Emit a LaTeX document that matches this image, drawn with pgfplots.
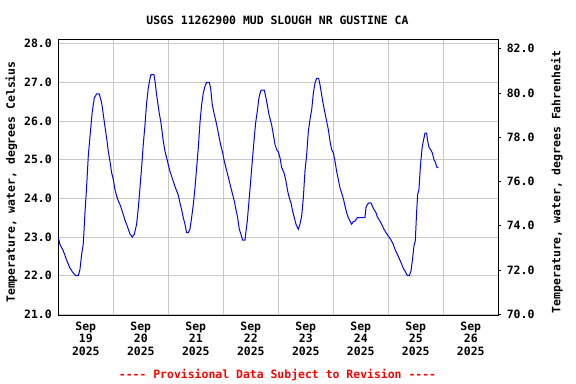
\documentclass[border=0pt]{standalone}
\usepackage{pgfplots}
\pgfplotsset{compat=1.18}
\usepackage{fontspec}
\setmainfont{DejaVu Sans Mono}
\setmonofont{DejaVu Sans Mono}
\definecolor{gridgray}{RGB}{200,200,200}
\newcommand{\ff}{\ttfamily\bfseries\fontsize{11.5}{13}\selectfont}
\begin{document}
\begin{tikzpicture}
\path[use as bounding box] (0,0) rectangle (576bp,384bp);
\begin{axis}[
  scale only axis, width=440bp, height=276.7bp,
  at={(58.3bp,68bp)}, anchor=south west,
  xmin=0, xmax=8, ymin=20.956, ymax=28.114,
  axis line style={line width=1bp, black},
  xtick={0.5,1.5,2.5,3.5,4.5,5.5,6.5,7.5},
  xticklabels={{Sep\\19\\2025},{Sep\\20\\2025},{Sep\\21\\2025},{Sep\\22\\2025},{Sep\\23\\2025},{Sep\\24\\2025},{Sep\\25\\2025},{Sep\\26\\2025}},
  xticklabel style={align=center, font=\ff, yshift=-2bp},
  minor xtick={1,2,3,4,5,6,7},
  xminorgrids=true, xmajorgrids=false,
  ytick={21,22,23,24,25,26,27,28},
  ymajorgrids=true,
  grid style={gridgray, line width=0.9bp},
  minor grid style={gridgray, line width=0.9bp},
  major tick length=0pt, minor tick length=0pt,
  yticklabel style={font=\ff, xshift=-3bp},
  /pgf/number format/.cd, fixed, fixed zerofill, precision=1, assume math mode=true,
]
\addplot[blue, line width=1bp] coordinates {
(0.000,22.98)(0.030,22.81)(0.091,22.64)(0.152,22.40)(0.212,22.20)(0.255,22.10)(0.315,22.00)(0.364,22.00)(0.394,22.16)(0.424,22.55)(0.455,22.83)(0.485,23.63)(0.515,24.30)(0.545,25.09)(0.576,25.60)(0.618,26.25)(0.655,26.60)(0.697,26.70)(0.745,26.70)(0.788,26.47)(0.818,26.17)(0.848,25.86)(0.879,25.56)(0.909,25.22)(0.939,24.96)(0.970,24.66)(1.000,24.49)(1.030,24.23)(1.061,24.06)(1.091,23.93)(1.121,23.84)(1.152,23.71)(1.182,23.58)(1.212,23.43)(1.242,23.33)(1.273,23.20)(1.303,23.08)(1.345,23.00)(1.382,23.07)(1.424,23.33)(1.455,23.76)(1.485,24.27)(1.515,24.80)(1.545,25.39)(1.576,25.90)(1.606,26.47)(1.636,26.85)(1.667,27.10)(1.685,27.20)(1.739,27.20)(1.758,27.03)(1.788,26.68)(1.830,26.25)(1.867,25.95)(1.909,25.48)(1.939,25.22)(1.970,25.05)(2.000,24.87)(2.030,24.70)(2.061,24.57)(2.091,24.44)(2.121,24.31)(2.152,24.19)(2.182,24.08)(2.212,23.88)(2.242,23.71)(2.273,23.50)(2.303,23.33)(2.333,23.11)(2.364,23.11)(2.394,23.20)(2.424,23.50)(2.455,23.84)(2.485,24.27)(2.515,24.79)(2.545,25.30)(2.576,25.95)(2.606,26.42)(2.636,26.72)(2.667,26.90)(2.697,27.00)(2.745,27.00)(2.770,26.85)(2.800,26.42)(2.836,26.17)(2.867,25.99)(2.897,25.78)(2.927,25.56)(2.958,25.35)(2.988,25.18)(3.018,24.96)(3.048,24.79)(3.079,24.62)(3.109,24.44)(3.139,24.27)(3.170,24.10)(3.200,23.93)(3.230,23.71)(3.261,23.50)(3.291,23.20)(3.321,23.07)(3.352,22.92)(3.394,22.92)(3.406,23.07)(3.436,23.41)(3.467,23.93)(3.497,24.44)(3.527,24.96)(3.558,25.48)(3.588,25.95)(3.618,26.25)(3.648,26.60)(3.679,26.77)(3.697,26.80)(3.745,26.80)(3.770,26.64)(3.800,26.42)(3.830,26.17)(3.879,25.90)(3.910,25.65)(3.940,25.39)(3.970,25.26)(4.001,25.20)(4.031,25.05)(4.061,24.80)(4.104,24.66)(4.140,24.44)(4.170,24.19)(4.201,24.01)(4.231,23.88)(4.261,23.67)(4.291,23.50)(4.322,23.33)(4.364,23.20)(4.394,23.33)(4.425,23.54)(4.455,24.01)(4.485,24.70)(4.516,25.13)(4.546,25.73)(4.576,26.04)(4.607,26.29)(4.637,26.72)(4.667,26.98)(4.697,27.10)(4.734,27.10)(4.758,26.94)(4.788,26.68)(4.819,26.42)(4.849,26.21)(4.879,25.99)(4.910,25.78)(4.940,25.48)(4.970,25.26)(5.001,25.18)(5.031,24.96)(5.061,24.70)(5.091,24.49)(5.122,24.27)(5.152,24.14)(5.182,24.00)(5.213,23.80)(5.243,23.63)(5.273,23.50)(5.304,23.41)(5.334,23.33)(5.364,23.40)(5.395,23.41)(5.437,23.50)(5.576,23.50)(5.594,23.76)(5.619,23.84)(5.649,23.88)(5.685,23.88)(5.710,23.80)(5.740,23.71)(5.776,23.63)(5.800,23.52)(5.849,23.41)(5.879,23.33)(5.922,23.20)(5.958,23.11)(6.001,23.02)(6.043,22.94)(6.091,22.81)(6.122,22.68)(6.152,22.59)(6.194,22.46)(6.231,22.34)(6.273,22.19)(6.304,22.12)(6.334,22.03)(6.352,22.00)(6.382,22.00)(6.413,22.12)(6.443,22.46)(6.467,22.77)(6.491,22.90)(6.516,23.67)(6.534,24.10)(6.558,24.23)(6.576,24.66)(6.594,25.00)(6.619,25.35)(6.649,25.56)(6.667,25.69)(6.697,25.69)(6.716,25.48)(6.740,25.32)(6.770,25.26)(6.800,25.18)(6.831,25.00)(6.861,24.92)(6.879,24.81)(6.910,24.79)
};
\end{axis}
\begin{axis}[
  scale only axis, width=440bp, height=276.7bp,
  at={(58.3bp,68bp)}, anchor=south west,
  xmin=0, xmax=8, ymin=69.92, ymax=82.43,
  axis x line=none, axis y line*=right,
  axis line style={line width=1bp, black, -},
  ytick={70,72,74,76,78,80,82},
  tick align=outside, major tick length=3bp,
  tick style={black, line width=0.8bp},
  yticklabel style={font=\ff, xshift=2bp},
  /pgf/number format/.cd, fixed, fixed zerofill, precision=1, assume math mode=true,
]
\end{axis}
\node[font=\ff] at (277.5bp,364bp) {USGS 11262900 MUD SLOUGH NR GUSTINE CA};
\node[font=\ff, rotate=90] at (11.5bp,202bp) {Temperature, water, degrees Celsius};
\node[font=\ff, rotate=90] at (557bp,202bp) {Temperature, water, degrees Fahrenheit};
\node[font=\ff, text=red] at (277.5bp,9bp) {---- Provisional Data Subject to Revision ----};
\end{tikzpicture}
\end{document}
